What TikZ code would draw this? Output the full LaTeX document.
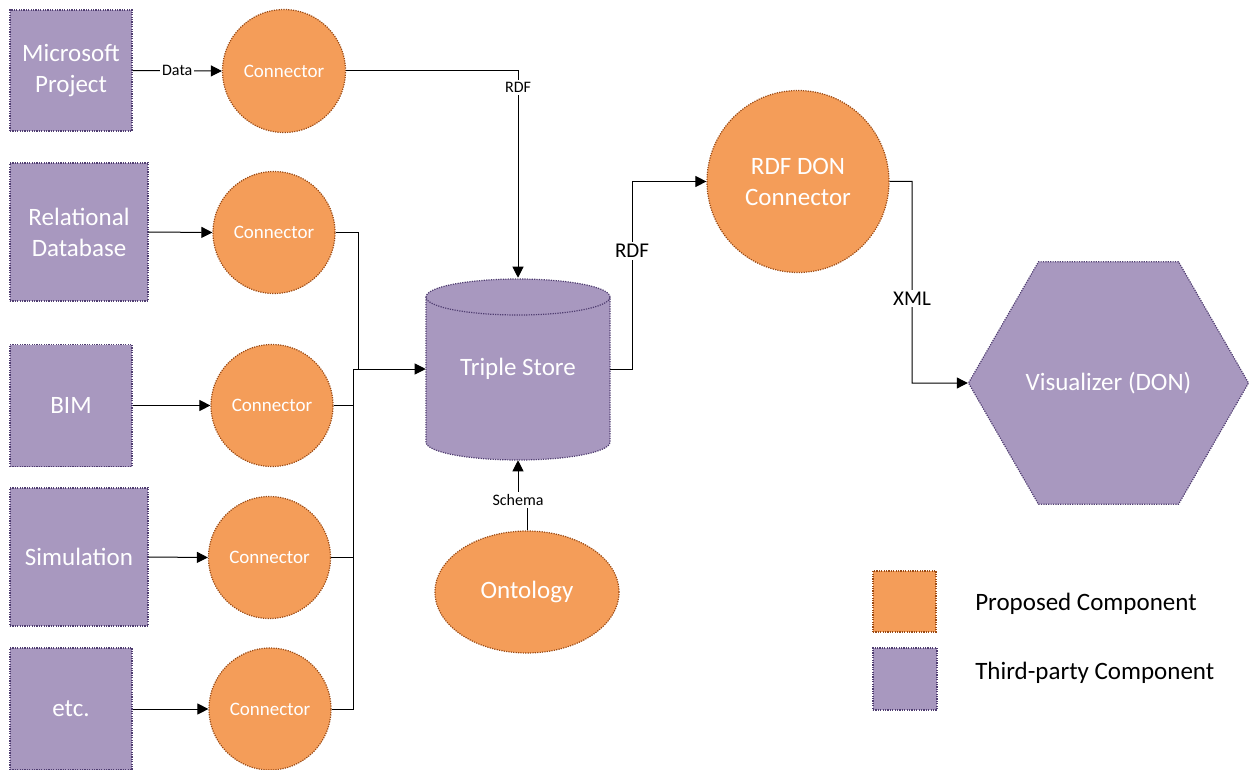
\documentclass[tikz,border=0pt]{standalone}
\usepackage{fontspec}
\setmainfont{Carlito}
\usetikzlibrary{arrows.meta,shapes.geometric}

\definecolor{propfill}{HTML}{F49D59}
\definecolor{propline}{HTML}{9A4A14}
\definecolor{tpfill}{HTML}{A898BF}
\definecolor{tpline}{HTML}{4F3D70}

\newcommand{\fbig}{\fontsize{18.75pt}{23.25pt}\selectfont}
\newcommand{\fconn}{\fontsize{14.25pt}{17pt}\selectfont}
\newcommand{\fmid}{\fontsize{15.75pt}{19pt}\selectfont}
\newcommand{\fsmall}{\fontsize{12pt}{14.5pt}\selectfont}

\tikzset{
  dotline/.style={line width=0.9pt, dash pattern=on 0.9pt off 0.9pt},
  thirdparty/.style={rectangle, fill=tpfill, draw=tpline, dotline, text=white,
    font=\fbig, align=center, inner sep=0pt},
  proposed/.style={fill=propfill, draw=propline, dotline, text=white, inner sep=0pt},
  conn/.style={proposed, circle, minimum size=91.5pt, font=\fconn},
  flow/.style={draw=black, line width=0.75pt, -{Triangle[length=8.25pt,width=8.25pt]}},
  wire/.style={draw=black, line width=0.75pt},
  lbl/.style={fill=white, text=black, inner sep=1.5pt},
  legendtext/.style={anchor=base west, text=black, font=\fbig, inner sep=0pt},
}

\begin{document}
\begin{tikzpicture}[x=0.75pt, y=-0.75pt]
\useasboundingbox (0,0) rectangle (1249,770);

% data sources
\node[thirdparty, minimum width=91.5pt, minimum height=90.75pt] (msp) at (71,70.5) {Microsoft\\Project};
\node[thirdparty, minimum width=103.5pt, minimum height=103.5pt] (rdb) at (79,232) {Relational\\Database};
\node[thirdparty, minimum width=91.5pt, minimum height=91.5pt] (bim) at (71,405.5) {BIM};
\node[thirdparty, minimum width=103.5pt, minimum height=103.5pt] (sim) at (79,557) {Simulation};
\node[thirdparty, minimum width=91.5pt, minimum height=91.5pt] (etc) at (71,709) {etc.};

% connectors
\node[conn, minimum size=92.25pt] (c1) at (284,71) {Connector};
\node[conn] (c2) at (274,232.5) {Connector};
\node[conn] (c3) at (272,405.5) {Connector};
\node[conn] (c4) at (269.5,557.5) {Connector};
\node[conn] (c5) at (270,709) {Connector};

% triple store cylinder
\fill[tpfill] (426,297) -- (426,442)
  arc[start angle=180, end angle=360, x radius=69pt, y radius=13.5pt]
  -- (610,297)
  arc[start angle=0, end angle=180, x radius=69pt, y radius=13.5pt] -- cycle;
\draw[tpline, dotline] (426,297) -- (426,442)
  arc[start angle=180, end angle=360, x radius=69pt, y radius=13.5pt]
  -- (610,297);
\draw[tpline, dotline] (518,297) ellipse[x radius=69pt, y radius=13.5pt];
\node[minimum width=138pt, minimum height=136.5pt, inner sep=0pt, text=white, font=\fbig]
  (ts) at (518,369) {Triple Store};

% ontology, RDF DON connector, visualizer
\node[proposed, ellipse, minimum width=138pt, minimum height=91.5pt, font=\fbig] (ont) at (527,592) {Ontology};
\node[proposed, circle, minimum size=136.5pt, font=\fbig, align=center] (don) at (798,181.5) {RDF DON\\Connector};
\node[regular polygon, regular polygon sides=6, minimum size=210pt, inner sep=0pt,
  fill=tpfill, draw=tpline, dotline, text=white, font=\fbig] (vis) at (1108.5,383) {Visualizer (DON)};

% routing points
\coordinate (j1) at (353,369);
\coordinate (j2) at (358,369);
\coordinate (k1) at (632,369);
\coordinate (k2) at (632,181.5);
\coordinate (k3) at (912,181.5);
\coordinate (k4) at (912,383);
\coordinate (o1) at (527,500);
\coordinate (o2) at (518,500);

% connections
\draw[flow] (msp.east) -- node[lbl, font=\fsmall] {Data} (c1.west);
\draw[flow] (rdb.east) -- (c2.west);
\draw[flow] (bim.east) -- (c3.west);
\draw[flow] (sim.east) -- (c4.west);
\draw[flow] (etc.east) -- (c5.west);

\draw[flow] (c1.east) -| node[lbl, font=\fsmall, pos=0.54] {RDF} (ts.north);
\draw[wire] (c3.east) -| (j1);
\draw[wire] (c4.east) -| (j1);
\draw[wire] (c5.east) -| (j1);
\draw[wire] (j1) -- (j2);
\draw[flow] (c2.east) -| (j2) -- (ts.west);

\draw[flow] (ts.east) -- (k1) -- node[lbl, font=\fmid, pos=0.63] {RDF} (k2) -- (don.west);
\draw[flow] (don.east) -- (k3) -- node[lbl, font=\fmid, pos=0.58] {XML} (k4) -- (vis.west);
\draw[flow] (ont.north) -- (o1) -- node[lbl, font=\fsmall, pos=1] {Schema} (o2) -- (ts.south);

% legend
\node[proposed, rectangle, minimum width=47.25pt, minimum height=45.75pt] (legprop) at (904.5,601.5) {};
\node[thirdparty, minimum width=48pt, minimum height=46.5pt] (legtp) at (905,679) {};
\node[legendtext] (legproptext) at (975,610) {Proposed Component};
\node[legendtext] (legtptext) at (975,679) {Third-party Component};
\end{tikzpicture}
\end{document}
